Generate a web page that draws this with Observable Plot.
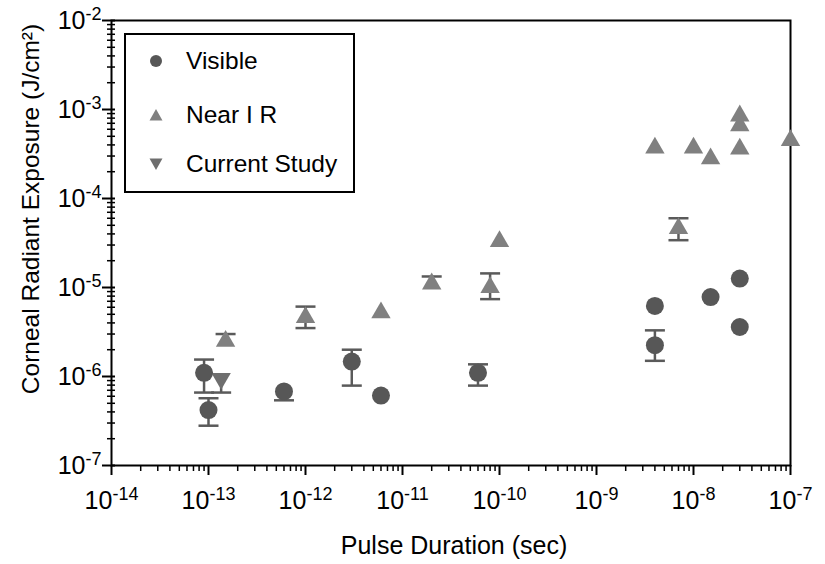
<!DOCTYPE html>
<html>
<head>
<meta charset="utf-8">
<script src="https://cdn.jsdelivr.net/npm/d3@7"></script>
<script src="https://cdn.jsdelivr.net/npm/@observablehq/plot@0.6"></script>
<style>
  html, body { margin: 0; padding: 0; background: #fff; }
  #wrap { position: relative; width: 825px; height: 564px; font-family: "Liberation Sans", Arial, sans-serif; }
  #legend { position: absolute; left: 124px; top: 33px; width: 227px; height: 156px; border: 2px solid #000; background: #fff; }
  .row { position: absolute; left: 0; height: 30px; display: flex; align-items: center; font-size: 24.5px; color: #000; white-space: nowrap; }
  .row svg { margin-left: 23px; margin-right: 23px; }
</style>
</head>
<body>
<div id="wrap">
  <div id="chart"></div>
  <div id="legend">
    <div class="row" style="top:11px"><svg width="14" height="14"><circle cx="7" cy="7" r="6" fill="#575757"/></svg>Visible</div>
    <div class="row" style="top:65px"><svg width="14" height="14"><path d="M7,1 L13.5,12.5 L0.5,12.5 Z" fill="#808080"/></svg>Near I R</div>
    <div class="row" style="top:114px"><svg width="14" height="14"><path d="M7,13 L13.5,1.5 L0.5,1.5 Z" fill="#6e6e6e"/></svg>Current Study</div>
  </div>
</div>
<script>
// ---- data ----
const visibleX  = [9e-14, 1e-13, 6e-13, 3e-12, 6e-12, 6e-11, 4e-9, 4e-9, 1.5e-8, 3e-8, 3e-8];
const visibleY  = [1.1e-6, 4.2e-7, 6.8e-7, 1.47e-6, 6.1e-7, 1.1e-6, 6.2e-6, 2.25e-6, 7.8e-6, 1.26e-5, 3.6e-6];
const visibleLo = [6.6e-7, 2.8e-7, 5.4e-7, 7.9e-7, null, 7.9e-7, null, 1.5e-6, null, null, null];
const visibleHi = [1.55e-6, 5.7e-7, null, 2.0e-6, null, 1.37e-6, null, 3.3e-6, null, null, null];

const nirX  = [1.5e-13, 1e-12, 6e-12, 2e-11, 8e-11, 1e-10, 4e-9, 7e-9, 1e-8, 1.5e-8, 3e-8, 3e-8, 3e-8, 1e-7];
const nirY  = [2.5e-6, 4.6e-6, 5.2e-6, 1.1e-5, 1.0e-5, 3.3e-5, 3.7e-4, 4.6e-5, 3.7e-4, 2.8e-4, 8.5e-4, 6.6e-4, 3.6e-4, 4.5e-4];
const nirLo = [null, 3.5e-6, null, null, 7.4e-6, null, null, 3.4e-5, null, null, null, null, null, null];
const nirHi = [3.0e-6, 6.1e-6, null, 1.33e-5, 1.44e-5, null, null, 6.0e-5, null, null, null, null, null, null];

const studyX  = [1.35e-13];
const studyY  = [9.5e-7];
const studyLo = [6.6e-7];
const studyHi = [null];

const xMajor = [1e-14, 1e-13, 1e-12, 1e-11, 1e-10, 1e-9, 1e-8, 1e-7];
const yMajor = [1e-7, 1e-6, 1e-5, 1e-4, 1e-3, 1e-2];
const mantissas = [2, 3, 4, 5, 6, 7, 8, 9];

// ---- build tables ----
const toRows = (X, Y, Lo, Hi, group) => X.map((x, i) => ({x, y: Y[i], lo: Lo[i], hi: Hi[i], group}));
const visible = toRows(visibleX, visibleY, visibleLo, visibleHi, "Visible");
const nir = toRows(nirX, nirY, nirLo, nirHi, "Near I R");
const study = toRows(studyX, studyY, studyLo, studyHi, "Current Study");
const all = [...visible, ...nir, ...study];
const bars = all.filter(d => d.lo != null || d.hi != null);
const caps = [];
for (const d of bars) {
  if (d.lo != null) caps.push({x: d.x, y: d.lo});
  if (d.hi != null) caps.push({x: d.x, y: d.hi});
}
const xMinor = xMajor.slice(0, -1).flatMap(p => mantissas.map(m => m * p));
const yMinor = yMajor.slice(0, -1).flatMap(p => mantissas.map(m => m * p));

const capSymbol = { draw(ctx) { ctx.moveTo(-10, 0); ctx.lineTo(10, 0); } };
const supFmt = d => "10^" + Math.round(Math.log10(d));
const none = () => "";
const errColor = "#5a5a5a";

const chart = Plot.plot({
  width: 825, height: 564,
  marginLeft: 111, marginRight: 35, marginTop: 20, marginBottom: 99,
  style: { fontFamily: "'Liberation Sans', Arial, sans-serif", background: "#fff", color: "#000" },
  x: { type: "log", domain: [1e-14, 1e-7], label: null },
  y: { type: "log", domain: [1e-7, 1e-2], label: null },
  marks: [
    Plot.axisX({ticks: xMinor, tickSize: 6, tickFormat: none, label: null, strokeWidth: 1.5}),
    Plot.axisX({ticks: xMajor, tickSize: 10, tickPadding: 16, tickFormat: supFmt, label: null, fontSize: 25, strokeWidth: 2}),
    Plot.axisY({ticks: yMinor, tickSize: 4, tickFormat: none, label: null, strokeWidth: 1.5}),
    Plot.axisY({ticks: yMinor, tickSize: -4, tickFormat: none, label: null, strokeWidth: 1.5}),
    Plot.axisY({ticks: yMajor, tickSize: -4, tickFormat: none, label: null, strokeWidth: 2}),
    Plot.axisY({ticks: yMajor, tickSize: 9, tickPadding: 1, tickFormat: supFmt, label: null, fontSize: 25, strokeWidth: 2}),
    Plot.frame({stroke: "#000", strokeWidth: 2}),
    Plot.ruleX(bars, {x: "x", y1: d => d.lo ?? d.y, y2: d => d.hi ?? d.y, stroke: errColor, strokeWidth: 2.5}),
    Plot.dot(caps, {x: "x", y: "y", symbol: capSymbol, stroke: errColor, strokeWidth: 2.5, fill: "none"}),
    Plot.dot(nir, {x: "x", y: "y", symbol: "triangle", r: 7.2, fill: "#808080", stroke: "none"}),
    Plot.dot(study, {x: "x", y: "y", symbol: "triangle", rotate: 180, r: 7.2, fill: "#6e6e6e", stroke: "none"}),
    Plot.dot(visible, {x: "x", y: "y", symbol: "circle", r: 9, fill: "#575757", stroke: "none"}),
    Plot.text(["Pulse Duration (sec)"], {frameAnchor: "bottom", textAnchor: "middle", dy: 88, dx: 3, fontSize: 25, fill: "#000"}),
    Plot.text(["Corneal Radiant Exposure (J/cm²)"], {frameAnchor: "left", textAnchor: "middle", rotate: -90, dx: -80, dy: -34, fontSize: 24.5, fill: "#000"})
  ]
});
document.getElementById("chart").appendChild(chart);

// render "10^n" tick labels with real superscripts, at the reference's size
d3.select(chart).selectAll("text").each(function() {
  const t = d3.select(this);
  const m = /^10\^(-?\d+)$/.exec(this.textContent);
  if (!m) return;
  t.text("").attr("font-size", 25).style("font-size", "25px").style("fill", "#000");
  t.append("tspan").text("10");
  t.append("tspan").attr("dy", "-0.5em").attr("font-size", 18).style("font-size", "18px").text(m[1]);
});
</script>
</body>
</html>
